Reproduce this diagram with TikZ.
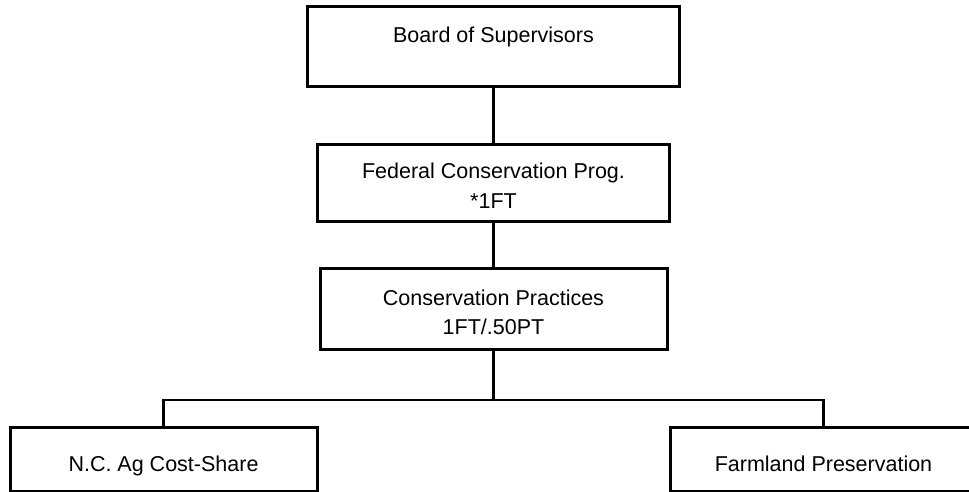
\documentclass[tikz,border=0pt]{standalone}
\usepackage{fontspec}
\setmainfont{Liberation Sans}
\begin{document}
\begin{tikzpicture}[x=1pt,y=-1pt,
  orgbox/.style={draw=black, line width=3pt, rectangle, inner sep=0pt, fill=white},
  lbl/.style={font=\fontsize{21.5}{26}\selectfont, inner sep=0pt, anchor=base},
  link/.style={draw=black, line width=2.8pt}]
\useasboundingbox (0,0) rectangle (969,491);
\clip (0,0) rectangle (969,491);
\fill[white] (0,0) rectangle (969,491);
% boxes
\node[orgbox, minimum width=372pt, minimum height=80pt] (board) at (493.5,46) {};
\node[orgbox, minimum width=352pt, minimum height=77pt] (fed) at (493.5,182.5) {};
\node[orgbox, minimum width=347pt, minimum height=81pt] (cons) at (493.5,308.5) {};
\node[orgbox, minimum width=307pt, minimum height=64pt] (nc) at (163.5,459) {};
\node[orgbox, minimum width=307pt, minimum height=64pt] (fp) at (823.5,459) {};
% texts
\node[lbl] (boardT) at (493.5,42.5) {Board of Supervisors};
\node[lbl] (fedT1) at (493.5,178.3) {Federal Conservation Prog.};
\node[lbl] (fedT2) at (493.5,208) {*1FT};
\node[lbl] (consT1) at (493.5,305) {Conservation Practices};
\node[lbl] (consT2) at (493.5,334) {1FT/.50PT};
\node[lbl] (ncT) at (163.5,471.7) {N.C. Ag Cost-Share};
\node[lbl] (fpT) at (823.5,471.7) {Farmland Preservation};
% connectors
\coordinate (bus) at (493.5,400);
\draw[link] (board.south) -- (fed.north);
\draw[link] (fed.south) -- (cons.south |- fed.south) -- (cons.north);
\draw[link] (cons.south) -- (bus);
\draw[link] (nc.north) |- (bus) -| (fp.north);
\end{tikzpicture}
\end{document}
